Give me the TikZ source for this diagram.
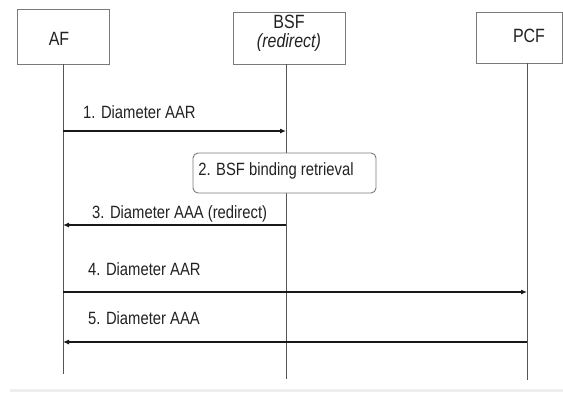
\documentclass[tikz,border=0pt]{standalone}
\usepackage{fontspec}
\setmainfont{Liberation Sans}
\usetikzlibrary{arrows.meta}
\definecolor{boxgray}{HTML}{7A7A7A}
\definecolor{lifegray}{HTML}{555555}
\definecolor{txt}{HTML}{222222}
\definecolor{band}{HTML}{ECEEF0}
\newcommand{\vs}[1]{\scalebox{1}[1.2]{#1}}
\begin{document}
\begin{tikzpicture}[x=1pt,y=-1pt,
  actorbox/.style={draw=boxgray, line width=0.9pt, fill=white, inner sep=0pt},
  actortext/.style={text=txt, font=\fontsize{16}{18}\selectfont, inner sep=0pt},
  msgtext/.style={text=txt, font=\fontsize{14.8}{17}\selectfont, inner sep=0pt, anchor=west},
  lifeline/.style={draw=lifegray, line width=0.8pt},
  msg/.style={draw=black!90, line width=1.1pt, -{Latex[length=6pt,width=5pt]}},
  procbox/.style={draw=boxgray, line width=0.9pt, fill=white, rounded corners=5pt, inner sep=0pt}
]
\fill[white] (0,0) rectangle (563,392);
\useasboundingbox (0,0) rectangle (563,392);
\fill[band] (10,389) rectangle (563,392);

% actor boxes
\node[actorbox, minimum width=92pt, minimum height=55pt] (af) at (63,36.5) {};
\node[actortext] (aft) at (59,39) {\vs{AF}};
\node[actorbox, minimum width=112pt, minimum height=52pt] (bsf) at (289,38) {};
\node[actortext] (bsft) at (289,22) {\vs{BSF}};
\node[actortext] (bsfr) at (289,43) {\vs{\itshape (redirect)}};
\node[actorbox, minimum width=86pt, minimum height=51pt] (pcf) at (519,37.5) {};
\node[actortext] (pcft) at (529,36) {\vs{PCF}};

% lifelines
\coordinate (afTop) at (63,64);
\coordinate (afBot) at (63,374);
\coordinate (bsfTop) at (286,64);
\coordinate (bsfBot) at (286,379);
\coordinate (pcfTop) at (527,63);
\coordinate (pcfBot) at (527,380);
\draw[lifeline] (afTop) -- (afBot);
\draw[lifeline] (bsfTop) -- (bsfBot);
\draw[lifeline] (pcfTop) -- (pcfBot);

% message anchor points
\coordinate (m1a) at (63,131);  \coordinate (m1b) at (286,131);
\coordinate (m3a) at (286,225); \coordinate (m3b) at (63,225);
\coordinate (m4a) at (63,292);  \coordinate (m4b) at (527,292);
\coordinate (m5a) at (527,342); \coordinate (m5b) at (63,342);

\draw[msg] (m1a) -- (m1b);
\node[msgtext] (l1) at (83,112.5) {\vs{1. Diameter AAR}};

\node[procbox, minimum width=183pt, minimum height=40pt] (p2) at (284.5,173) {};
\node[text=txt, font=\fontsize{14.8}{17}\selectfont, inner sep=0pt] (p2t) at (276,171) {\vs{2. BSF binding retrieval}};

\draw[msg] (m3a) -- (m3b);
\node[msgtext] (l3) at (92,214) {\vs{3. Diameter AAA (redirect)}};

\draw[msg] (m4a) -- (m4b);
\node[msgtext] (l4) at (88,269) {\vs{4. Diameter AAR}};

\draw[msg] (m5a) -- (m5b);
\node[msgtext] (l5) at (88,318.5) {\vs{5. Diameter AAA}};
\end{tikzpicture}
\end{document}
